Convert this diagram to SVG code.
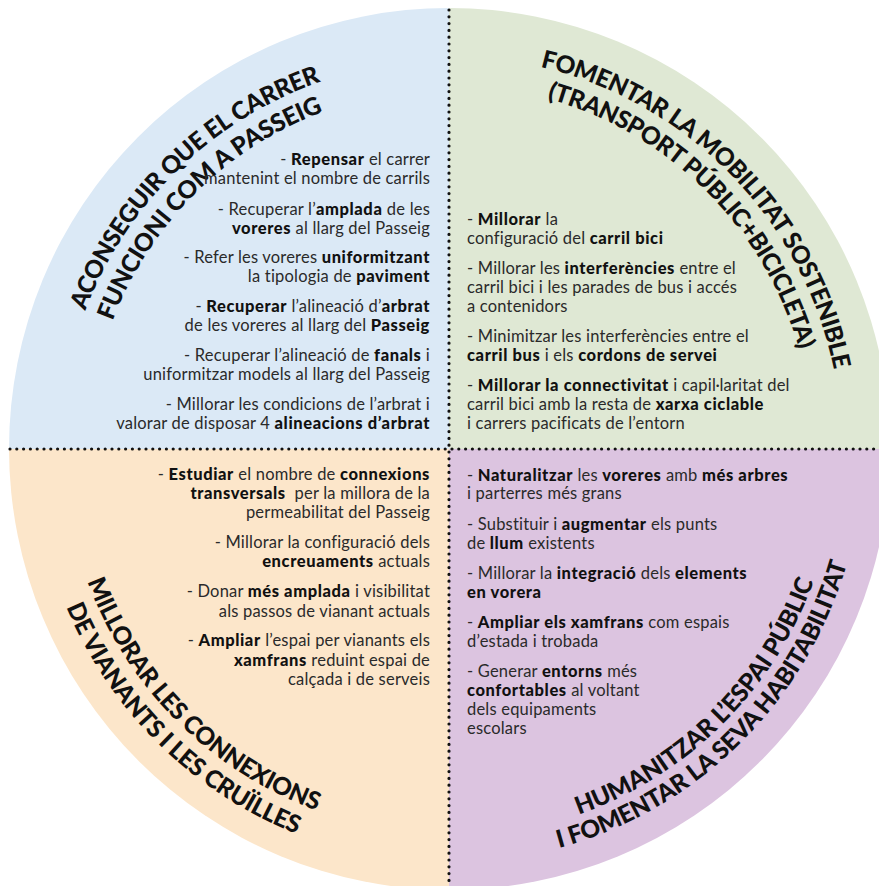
<svg xmlns="http://www.w3.org/2000/svg" xmlns:xlink="http://www.w3.org/1999/xlink" width="879" height="886" viewBox="0 0 879 886">
<style>
.t{font-family:Lato,"Liberation Sans",sans-serif;font-size:16.5px;letter-spacing:0.2px;fill:#2a2a2a}
.b{font-weight:900;fill:#111;letter-spacing:0.6px}
.h{font-family:Lato,"Liberation Sans",sans-serif;font-size:24.5px;font-weight:900;fill:#111}
.r{text-anchor:end}
.dots{stroke:#111;stroke-width:3.2;stroke-linecap:round;stroke-dasharray:0 6.8;fill:none}
</style>
<defs>
<path id="p1a" d="M60,443.6 A389,389 0 0 1 454.4,60"/>
<path id="p1b" d="M89,447.7 A360,360 0 0 1 450.3,89"/>
<path id="p2a" d="M455.2,56 A393,393 0 0 1 842,455.2"/>
<path id="p2b" d="M448.4,85 A364,364 0 0 1 813,448.4"/>
<path id="p3a" d="M64,449 A385,385 0 0 0 449,834"/>
<path id="p3b" d="M35,451.9 A414,414 0 0 0 451.9,863"/>
<path id="p4a" d="M447.6,837 A388,388 0 0 0 837,450.4"/>
<path id="p4b" d="M446.8,863 A414,414 0 0 0 863,451.2"/>
</defs>
<rect width="879" height="886" fill="#fff"/>
<g id="q-top-left">
<path d="M449,449 L9,449 A440,441 0 0 1 449,8 Z" fill="#dbe9f6"/>
<text class="h"><textPath href="#p1a" startOffset="50%" text-anchor="middle" textLength="339" lengthAdjust="spacing">ACONSEGUIR QUE EL CARRER</textPath></text>
<text class="h"><textPath href="#p1b" startOffset="50%" text-anchor="middle" textLength="306" lengthAdjust="spacing">FUNCIONI COM A PASSEIG</textPath></text>
<text class="t r" x="430" y="165">- <tspan class="b">Repensar</tspan> el carrer</text>
<text class="t r" x="430" y="184">mantenint el nombre de carrils</text>
<text class="t r" x="430" y="215">- Recuperar l’<tspan class="b">amplada</tspan> de les</text>
<text class="t r" x="430" y="234"><tspan class="b">voreres</tspan> al llarg del Passeig</text>
<text class="t r" x="430" y="263">- Refer les voreres <tspan class="b">uniformitzant</tspan></text>
<text class="t r" x="430" y="282">la tipologia de <tspan class="b">paviment</tspan></text>
<text class="t r" x="430" y="312">- <tspan class="b">Recuperar</tspan> l’alineació d’<tspan class="b">arbrat</tspan></text>
<text class="t r" x="430" y="331">de les voreres al llarg del <tspan class="b">Passeig</tspan></text>
<text class="t r" x="430" y="361">- Recuperar l’alineació de <tspan class="b">fanals</tspan> i</text>
<text class="t r" x="430" y="380">uniformitzar models al llarg del Passeig</text>
<text class="t r" x="430" y="410">- Millorar les condicions de l’arbrat i</text>
<text class="t r" x="430" y="429">valorar de disposar 4 <tspan class="b">alineacions d’arbrat</tspan></text>
</g>
<g id="q-top-right">
<path d="M449,449 L449,8 A441,441 0 0 1 890,449 Z" fill="#dfe8d4"/>
<text class="h"><textPath href="#p2a" startOffset="50%" text-anchor="middle" textLength="445" lengthAdjust="spacing">FOMENTAR LA MOBILITAT SOSTENIBLE</textPath></text>
<text class="h"><textPath href="#p2b" startOffset="50%" text-anchor="middle" textLength="372" lengthAdjust="spacing">(TRANSPORT PÚBLIC+BICICLETA)</textPath></text>
<text class="t" x="467" y="225">- <tspan class="b">Millorar</tspan> la</text>
<text class="t" x="467" y="244">configuració del <tspan class="b">carril bici</tspan></text>
<text class="t" x="467" y="274">- Millorar les <tspan class="b">interferències</tspan> entre el</text>
<text class="t" x="467" y="293">carril bici i les parades de bus i accés</text>
<text class="t" x="467" y="312">a contenidors</text>
<text class="t" x="467" y="342">- Minimitzar les interferències entre el</text>
<text class="t" x="467" y="361"><tspan class="b">carril bus</tspan> i els <tspan class="b">cordons de servei</tspan></text>
<text class="t" x="467" y="391">- <tspan class="b">Millorar la connectivitat</tspan> i capil·laritat del</text>
<text class="t" x="467" y="410">carril bici amb la resta de <tspan class="b">xarxa ciclable</tspan></text>
<text class="t" x="467" y="429">i carrers pacificats de l’entorn</text>
</g>
<g id="q-bottom-left">
<path d="M449,449 L449,890 A441,442 0 0 1 9,449 Z" fill="#fce6ca"/>
<text class="h"><textPath href="#p3a" startOffset="50%" text-anchor="middle" textLength="334" lengthAdjust="spacing">MILLORAR LES CONNEXIONS</textPath></text>
<text class="h"><textPath href="#p3b" startOffset="50%" text-anchor="middle" textLength="332" lengthAdjust="spacing">DE VIANANTS I LES CRUÏLLES</textPath></text>
<text class="t r" x="430" y="480">- <tspan class="b">Estudiar</tspan> el nombre de <tspan class="b">connexions</tspan></text>
<text class="t r" x="430" y="499"><tspan class="b">transversals</tspan> &#160;per la millora de la</text>
<text class="t r" x="430" y="518">permeabilitat del Passeig</text>
<text class="t r" x="430" y="548">- Millorar la configuració dels</text>
<text class="t r" x="430" y="567"><tspan class="b">encreuaments</tspan> actuals</text>
<text class="t r" x="430" y="597">- Donar <tspan class="b">més amplada</tspan> i visibilitat</text>
<text class="t r" x="430" y="617">als passos de vianant actuals</text>
<text class="t r" x="430" y="646">- <tspan class="b">Ampliar</tspan> l’espai per vianants els</text>
<text class="t r" x="430" y="666"><tspan class="b">xamfrans</tspan> reduint espai de</text>
<text class="t r" x="430" y="685">calçada i de serveis</text>
</g>
<g id="q-bottom-right">
<path d="M449,449 L890,449 A441,441 0 0 1 449,890 Z" fill="#dcc4e0"/>
<text class="h"><textPath href="#p4a" startOffset="50%" text-anchor="middle" textLength="342" lengthAdjust="spacing">HUMANITZAR L’ESPAI PÚBLIC</textPath></text>
<text class="h"><textPath href="#p4b" startOffset="50%" text-anchor="middle" textLength="423" lengthAdjust="spacing">I FOMENTAR LA SEVA HABITABILITAT</textPath></text>
<text class="t" x="467" y="481">- <tspan class="b">Naturalitzar</tspan> les <tspan class="b">voreres</tspan> amb <tspan class="b">més arbres</tspan></text>
<text class="t" x="467" y="499">i parterres més grans</text>
<text class="t" x="467" y="530">- Substituir i <tspan class="b">augmentar</tspan> els punts</text>
<text class="t" x="467" y="549">de <tspan class="b">llum</tspan> existents</text>
<text class="t" x="467" y="579">- Millorar la <tspan class="b">integració</tspan> dels <tspan class="b">elements</tspan></text>
<text class="t" x="467" y="598"><tspan class="b">en vorera</tspan></text>
<text class="t" x="467" y="628">- <tspan class="b">Ampliar els xamfrans</tspan> com espais</text>
<text class="t" x="467" y="647">d’estada i trobada</text>
<text class="t" x="467" y="677">- Generar <tspan class="b">entorns</tspan> més</text>
<text class="t" x="467" y="696"><tspan class="b">confortables</tspan> al voltant</text>
<text class="t" x="467" y="715">dels equipaments</text>
<text class="t" x="467" y="734">escolars</text>
</g>
<g id="connectors">
<line class="dots" x1="449" y1="10" x2="449" y2="886"/>
<line class="dots" x1="10" y1="449" x2="879" y2="449"/>
</g>
</svg>
